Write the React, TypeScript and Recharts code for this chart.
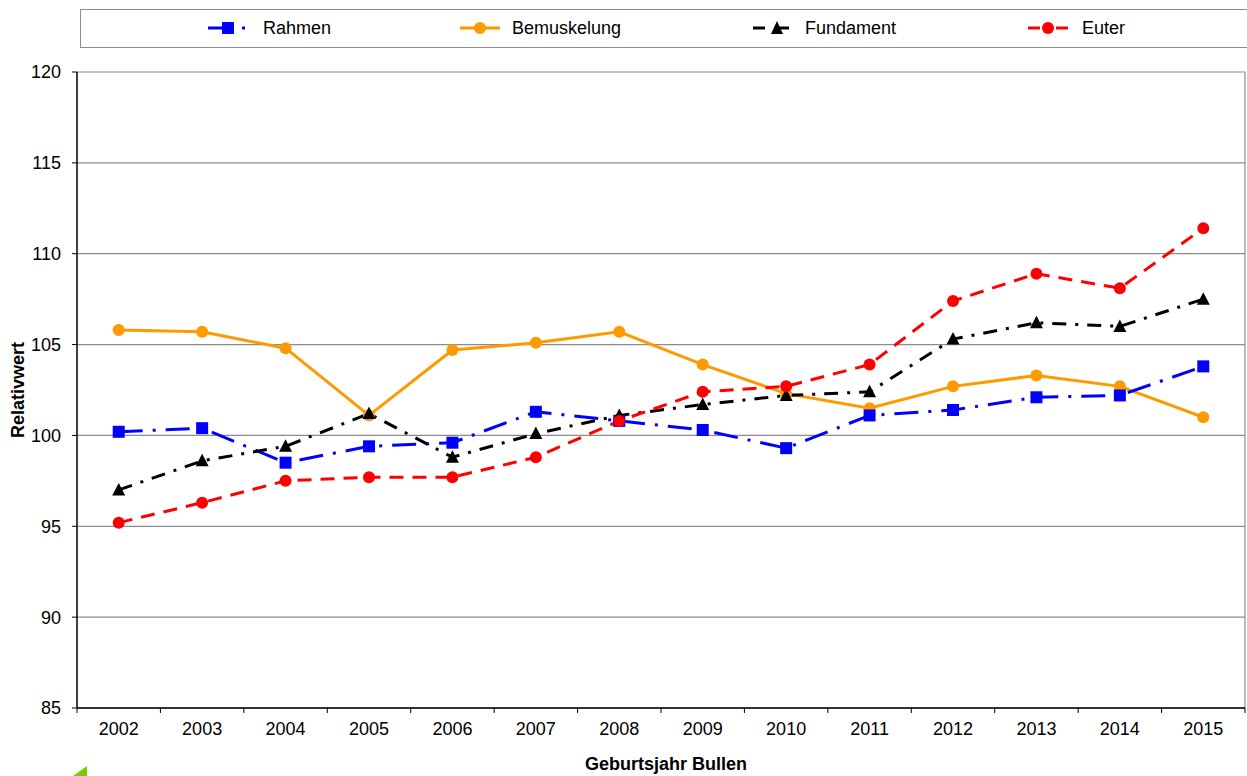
import { LineChart, Line, XAxis, YAxis, CartesianGrid, ReferenceLine } from 'recharts'

const years = [2002, 2003, 2004, 2005, 2006, 2007, 2008, 2009, 2010, 2011, 2012, 2013, 2014, 2015]
const rahmen = [100.2, 100.4, 98.5, 99.4, 99.6, 101.3, 100.8, 100.3, 99.3, 101.1, 101.4, 102.1, 102.2, 103.8]
const bemuskelung = [105.8, 105.7, 104.8, 101.1, 104.7, 105.1, 105.7, 103.9, 102.3, 101.5, 102.7, 103.3, 102.7, 101.0]
const fundament = [97.0, 98.6, 99.4, 101.2, 98.8, 100.1, 101.1, 101.7, 102.2, 102.4, 105.3, 106.2, 106.0, 107.5]
const euter = [95.2, 96.3, 97.5, 97.7, 97.7, 98.8, 100.8, 102.4, 102.7, 103.9, 107.4, 108.9, 108.1, 111.4]
const yTicks = [85, 90, 95, 100, 105, 110, 115, 120]

const data = years.map((year, i) => ({
  year,
  rahmen: rahmen[i],
  bemuskelung: bemuskelung[i],
  fundament: fundament[i],
  euter: euter[i],
}))

// tick marks sit between the years, labels in the middle of each slot
const boundaryTicks = [years[0] - 0.5, ...years.map((y) => y + 0.5)]

const FONT = '"Liberation Sans", Arial, sans-serif'
const FS = 18
const CHART_W = 1247
const CHART_H = 776
const MARGIN = { top: 72, right: 2, bottom: 0, left: 0 }
const Y_AXIS_W = 77
const HALF_BAND = (CHART_W - MARGIN.left - MARGIN.right - Y_AXIS_W) / years.length / 2

const BLUE = '#0000FF'
const ORANGE = '#FF9900'
const BLACK = '#000000'
const RED = '#FF0000'

const DASH_RAHMEN = '24 10 3 10'
const DASH_FUNDAMENT = '14 9 3 9'
const DASH_EUTER = '14 9'

const Square = (p: any) => (
  <rect key={`s${p.index}`} x={p.cx - 6} y={p.cy - 6} width={12} height={12} fill={BLUE} />
)
const Circle = (color: string) => (p: any) => (
  <circle key={`c${color}${p.index}`} cx={p.cx} cy={p.cy} r={6} fill={color} />
)
const Triangle = (p: any) => (
  <polygon
    key={`t${p.index}`}
    points={`${p.cx},${p.cy - 7} ${p.cx + 6.5},${p.cy + 5.5} ${p.cx - 6.5},${p.cy + 5.5}`}
    fill={BLACK}
  />
)

const XTick = (props: any) => {
  const { x, y, payload } = props
  const year = payload.value + 0.5
  if (!years.includes(year)) return <g />
  return (
    <text x={x + HALF_BAND} y={y} dy="0.71em" textAnchor="middle" fontSize={FS} fill="#000" fontFamily={FONT}>
      {year}
    </text>
  )
}

const legendItems = [
  { name: 'Rahmen', color: BLUE, dash: DASH_RAHMEN, marker: 'square', iconX: 207, textX: 263 },
  { name: 'Bemuskelung', color: ORANGE, dash: undefined, marker: 'circle', iconX: 459, textX: 512 },
  { name: 'Fundament', color: BLACK, dash: '12 12', marker: 'triangle', iconX: 752, textX: 805 },
  { name: 'Euter', color: RED, dash: '12 16', marker: 'circle', iconX: 1027, textX: 1082 },
]

function LegendIcon({ color, dash, marker }: { color: string; dash?: string; marker: string }) {
  return (
    <svg width={44} height={16} style={{ display: 'block' }}>
      <line x1={1} y1={8} x2={41} y2={8} stroke={color} strokeWidth={3} strokeDasharray={dash} />
      {marker === 'square' && <rect x={15} y={2} width={12} height={12} fill={color} />}
      {marker === 'circle' && <circle cx={21} cy={8} r={6} fill={color} />}
      {marker === 'triangle' && <polygon points="25,1 31,14 19,14" fill={color} />}
    </svg>
  )
}

export default function App() {
  return (
    <div style={{ position: 'absolute', left: 0, top: 0, width: CHART_W, height: CHART_H, fontFamily: FONT, background: '#fff', overflow: 'hidden' }}>
      <div
        style={{
          position: 'absolute', left: 80, top: 9, width: 1180, height: 39,
          border: '1.5px solid #8c8c8c', boxSizing: 'border-box',
        }}
      />
      {legendItems.map((it) => (
        <div key={it.name}>
          <div style={{ position: 'absolute', left: it.iconX, top: 20 }}>
            <LegendIcon color={it.color} dash={it.dash} marker={it.marker} />
          </div>
          <div style={{ position: 'absolute', left: it.textX, top: 17, fontSize: FS, lineHeight: '22px', color: '#000' }}>
            {it.name}
          </div>
        </div>
      ))}
      <LineChart width={CHART_W} height={CHART_H} data={data} margin={MARGIN}>
        <CartesianGrid vertical={false} stroke="#8c8c8c" strokeWidth={1.2} />
        <XAxis
          dataKey="year"
          type="number"
          domain={[boundaryTicks[0], boundaryTicks[boundaryTicks.length - 1]]}
          ticks={boundaryTicks}
          interval={0}
          height={68}
          tickSize={5}
          tickMargin={9}
          tick={<XTick />}
          axisLine={{ stroke: '#000', strokeWidth: 1.5 }}
          tickLine={{ stroke: '#000' }}
          label={{
            value: 'Geburtsjahr Bullen', position: 'insideBottom', offset: 6, dx: 5,
            style: { fontSize: FS, fontWeight: 'bold', fill: '#000', fontFamily: FONT },
          }}
        />
        <YAxis
          domain={[85, 120]}
          ticks={yTicks}
          interval={0}
          width={Y_AXIS_W}
          tickSize={5}
          tickMargin={11}
          tick={{ fontSize: FS, fill: '#000', fontFamily: FONT }}
          axisLine={{ stroke: '#000', strokeWidth: 1.5 }}
          tickLine={{ stroke: '#000' }}
          label={{
            value: 'Relativwert', angle: -90, position: 'insideLeft', offset: 18,
            style: { fontSize: FS, fontWeight: 'bold', fill: '#000', fontFamily: FONT, textAnchor: 'middle' },
          }}
        />
        <ReferenceLine x={boundaryTicks[boundaryTicks.length - 1]} stroke="#8c8c8c" strokeWidth={1.2} />
        <Line dataKey="bemuskelung" stroke={ORANGE} strokeWidth={3} dot={Circle(ORANGE)} isAnimationActive={false} />
        <Line dataKey="rahmen" stroke={BLUE} strokeWidth={3} strokeDasharray={DASH_RAHMEN} dot={Square} isAnimationActive={false} />
        <Line dataKey="fundament" stroke={BLACK} strokeWidth={3} strokeDasharray={DASH_FUNDAMENT} dot={Triangle} isAnimationActive={false} />
        <Line dataKey="euter" stroke={RED} strokeWidth={3} strokeDasharray={DASH_EUTER} dot={Circle(RED)} isAnimationActive={false} />
      </LineChart>
      <svg style={{ position: 'absolute', left: 70, top: 764 }} width={20} height={12}>
        <polygon points="3,12 17,2 17,12" fill="#77cc00" />
      </svg>
    </div>
  )
}
